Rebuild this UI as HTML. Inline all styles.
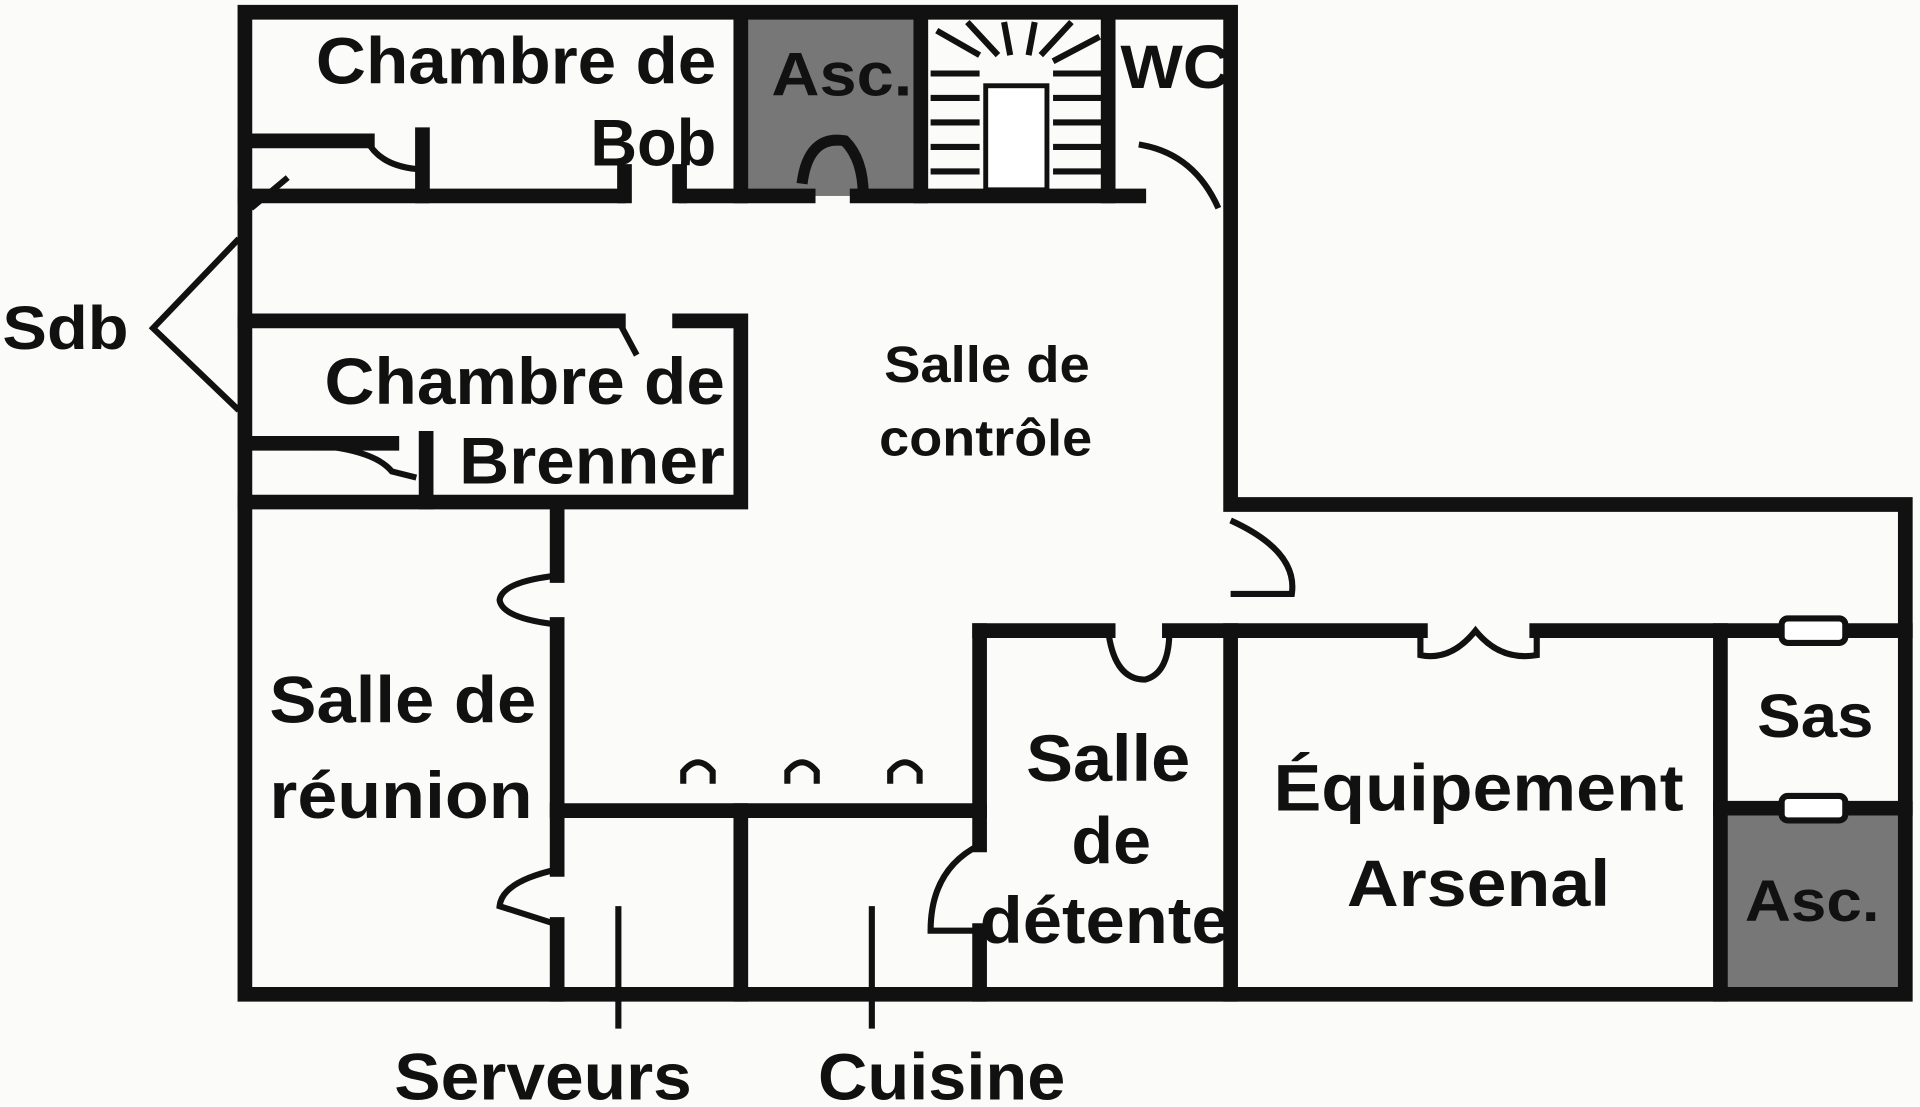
<!DOCTYPE html>
<html><head><meta charset="utf-8"><style>
html,body{margin:0;padding:0;background:#fbfbfa;}
svg{display:block}
text{font-family:"Liberation Sans",sans-serif;font-weight:bold;fill:#111;}
</style></head><body>
<svg width="1920" height="1107" viewBox="0 0 1568 904" xmlns="http://www.w3.org/2000/svg">
<rect width="1568" height="904" fill="#fbfbfa"/>
<rect x="610" y="14" width="138" height="146" fill="#777"/>
<rect x="1408" y="660" width="150" height="150" fill="#777"/>
<g stroke="#111" stroke-width="12" fill="none" stroke-linecap="square">
<path d="M200 10 H1005 V412 H1556 V812 H200 Z"/>
<line x1="605" y1="14" x2="605" y2="160"/>
<line x1="752" y1="14" x2="752" y2="160"/>
<line x1="905" y1="14" x2="905" y2="160"/>
<line x1="200" y1="160" x2="505" y2="160"/>
<line x1="560" y1="160" x2="660" y2="160"/>
<line x1="700" y1="160" x2="930" y2="160"/>
<line x1="510" y1="160" x2="510" y2="140"/>
<line x1="555" y1="160" x2="555" y2="140"/>
<line x1="205" y1="115" x2="300" y2="115"/>
<line x1="345" y1="110" x2="345" y2="160"/>
<line x1="200" y1="262" x2="505" y2="262"/>
<path d="M555 262 H605 V410 H200"/>
<line x1="205" y1="362" x2="320" y2="362"/>
<line x1="348" y1="358" x2="348" y2="410"/>
<line x1="455" y1="420" x2="455" y2="470"/>
<line x1="455" y1="510" x2="455" y2="710"/>
<line x1="455" y1="755" x2="455" y2="812"/>
<line x1="455" y1="662" x2="800" y2="662"/>
<line x1="605" y1="662" x2="605" y2="812"/>
<line x1="800" y1="515" x2="800" y2="690"/>
<line x1="800" y1="760" x2="800" y2="812"/>
<line x1="800" y1="515" x2="905" y2="515"/>
<line x1="955" y1="515" x2="1160" y2="515"/>
<line x1="1255" y1="515" x2="1556" y2="515"/>
<line x1="1005" y1="515" x2="1005" y2="812"/>
<line x1="1405" y1="515" x2="1405" y2="812"/>
<line x1="1405" y1="660" x2="1556" y2="660"/>
</g>
<rect x="805" y="70" width="50" height="85" fill="#fff" stroke="#111" stroke-width="4"/>
<g stroke="#111" stroke-width="5" fill="none">
<path d="M300 115 Q310 135 340 138"/>
<path d="M205 362 Q300 360 320 385 L340 390"/>
<path d="M455 470 Q410 475 408 490 Q410 505 455 510"/>
<path d="M455 710 Q410 720 408 740 L455 755"/>
<path d="M800 690 Q760 710 760 760 L800 760"/>
<path d="M905 515 Q910 555 935 555 Q955 550 955 515"/>
<path d="M1160 515 V535 Q1185 540 1205 515 Q1225 540 1255 535 V515"/>
<path d="M1005 425 Q1060 450 1055 485 L1005 485"/>
<path d="M655 150 Q660 110 690 115 Q705 130 705 160" stroke-width="9"/>
<path d="M930 118 Q975 125 995 170"/>
<path d="M505 262 L520 290"/>
<path d="M235 145 L205 170"/>
<path d="M558 640 V630 Q570 615 582 630 V640"/>
<path d="M643 640 V630 Q655 615 667 630 V640"/>
<path d="M727 640 V630 Q739 615 751 630 V640"/>
<path d="M195 195 L125 268 L195 335"/>
<line x1="505" y1="740" x2="505" y2="840"/>
<line x1="712" y1="740" x2="712" y2="840"/>
</g>
<rect x="1455" y="505" width="52" height="20" rx="5" fill="#fff" stroke="#111" stroke-width="5"/>
<rect x="1455" y="650" width="52" height="20" rx="5" fill="#fff" stroke="#111" stroke-width="5"/>
<g stroke="#111" stroke-width="5">
<line x1="760" y1="60" x2="800" y2="60"/><line x1="760" y1="80" x2="800" y2="80"/><line x1="760" y1="100" x2="800" y2="100"/><line x1="760" y1="120" x2="800" y2="120"/><line x1="760" y1="140" x2="800" y2="140"/>
<line x1="860" y1="60" x2="900" y2="60"/><line x1="860" y1="80" x2="900" y2="80"/><line x1="860" y1="100" x2="900" y2="100"/><line x1="860" y1="120" x2="900" y2="120"/><line x1="860" y1="140" x2="900" y2="140"/>
<line x1="765" y1="25" x2="800" y2="45"/><line x1="790" y1="18" x2="815" y2="45"/><line x1="820" y1="18" x2="825" y2="45"/><line x1="845" y1="18" x2="840" y2="45"/><line x1="875" y1="18" x2="850" y2="45"/><line x1="898" y1="30" x2="860" y2="50"/>
</g>
<g lengthAdjust="spacingAndGlyphs">
<text x="258" y="68" font-size="54" textLength="327" lengthAdjust="spacingAndGlyphs">Chambre de</text>
<text x="482" y="135" font-size="54" textLength="103" lengthAdjust="spacingAndGlyphs">Bob</text>
<text x="630" y="78" font-size="50" textLength="115" lengthAdjust="spacingAndGlyphs">Asc.</text>
<text x="915" y="72" font-size="50" textLength="90" lengthAdjust="spacingAndGlyphs">WC</text>
<text x="2" y="285" font-size="50" textLength="103" lengthAdjust="spacingAndGlyphs">Sdb</text>
<text x="265" y="330" font-size="54" textLength="327" lengthAdjust="spacingAndGlyphs">Chambre de</text>
<text x="375" y="395" font-size="54" textLength="217" lengthAdjust="spacingAndGlyphs">Brenner</text>
<text x="722" y="312" font-size="42" textLength="168" lengthAdjust="spacingAndGlyphs">Salle de</text>
<text x="718" y="372" font-size="42" textLength="174" lengthAdjust="spacingAndGlyphs">contrôle</text>
<text x="220" y="590" font-size="54" textLength="218" lengthAdjust="spacingAndGlyphs">Salle de</text>
<text x="220" y="668" font-size="54" textLength="215" lengthAdjust="spacingAndGlyphs">réunion</text>
<text x="838" y="638" font-size="54" textLength="134" lengthAdjust="spacingAndGlyphs">Salle</text>
<text x="875" y="705" font-size="54" textLength="65" lengthAdjust="spacingAndGlyphs">de</text>
<text x="800" y="770" font-size="54" textLength="205" lengthAdjust="spacingAndGlyphs">détente</text>
<text x="1040" y="662" font-size="54" textLength="335" lengthAdjust="spacingAndGlyphs">Équipement</text>
<text x="1100" y="740" font-size="54" textLength="215" lengthAdjust="spacingAndGlyphs">Arsenal</text>
<text x="1435" y="602" font-size="50" textLength="95" lengthAdjust="spacingAndGlyphs">Sas</text>
<text x="1425" y="752" font-size="48" textLength="110" lengthAdjust="spacingAndGlyphs">Asc.</text>
<text x="322" y="898" font-size="54" textLength="243" lengthAdjust="spacingAndGlyphs">Serveurs</text>
<text x="668" y="898" font-size="54" textLength="202" lengthAdjust="spacingAndGlyphs">Cuisine</text>
</g>
</svg>
</body></html>
